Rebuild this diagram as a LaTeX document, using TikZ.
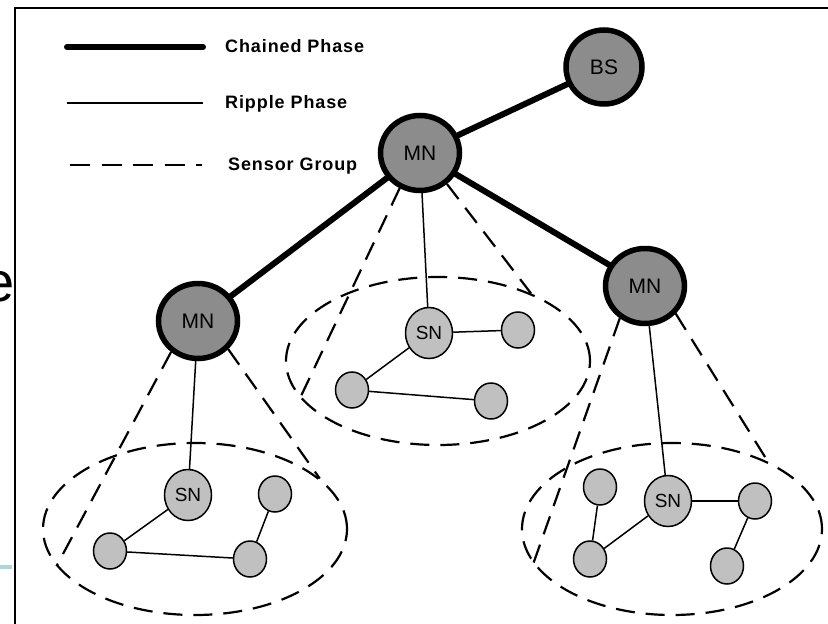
\documentclass[tikz,border=0pt]{standalone}
\usepackage{fontspec}
\setmainfont{Liberation Sans}
\newfontfamily\legendfont[LetterSpace=5]{Liberation Sans}
\usetikzlibrary{shapes.geometric}
\pgfdeclarelayer{bg}
\pgfsetlayers{bg,main}
\definecolor{headgray}{RGB}{140,140,140}
\definecolor{leafgray}{RGB}{192,192,192}
\definecolor{slideteal}{RGB}{168,216,220}

\begin{document}
\begin{tikzpicture}[x=1pt,y=-1pt,
  head/.style={ellipse, draw, line width=5.5pt, fill=headgray,
    minimum width=79pt, minimum height=75pt, inner sep=0pt,
    font=\fontsize{21}{21}\selectfont},
  sensor/.style={ellipse, draw, line width=1.5pt, fill=leafgray,
    minimum width=47pt, minimum height=51pt, inner sep=0pt,
    font=\fontsize{19}{19}\selectfont},
  leaf/.style={ellipse, draw, line width=1.5pt, fill=leafgray,
    minimum width=33pt, minimum height=36pt, inner sep=0pt},
  group/.style={ellipse, draw, line width=2.2pt, dash pattern=on 19pt off 11pt,
    inner sep=0pt},
  chain/.style={line width=6pt, line cap=round},
  ripple/.style={line width=1.5pt},
  cone/.style={line width=2.2pt, dash pattern=on 19pt off 11pt},
  legendtext/.style={anchor=base west, inner sep=0pt,
    font=\legendfont\bfseries\fontsize{18}{18}\selectfont}
]
\useasboundingbox (0,0) rectangle (828,624);

% slide fragments around the figure
\fill[slideteal] (0,565) rectangle (12,569);
\node[anchor=base east, inner sep=0pt, font=\fontsize{56}{56}\selectfont]
  (slideword) at (14.5,301) {e};

% figure frame
\draw[line width=2.3pt] (15,640) -- (15,8) -- (840,8);

% legend
\coordinate (lgA1) at (67,47);  \coordinate (lgA2) at (203,47);
\coordinate (lgB1) at (67,103); \coordinate (lgB2) at (203,103);
\coordinate (lgC1) at (70,165); \coordinate (lgC2) at (202,165);
\draw[chain] (lgA1) -- (lgA2);
\draw[ripple] (lgB1) -- (lgB2);
\draw[cone, dash pattern=on 20pt off 11.5pt] (lgC1) -- (lgC2);
\node[legendtext] (lgAtext) at (225,52) {Chained Phase};
\node[legendtext] (lgBtext) at (225,108) {Ripple Phase};
\node[legendtext] (lgCtext) at (228,170) {Sensor Group};

% base station and master nodes
\node[head, minimum width=76pt, minimum height=74pt] (bs) at (604,67) {BS};
\node[head] (mnT) at (420,153) {MN};
\node[head] (mnL) at (198,321) {MN};
\node[head] (mnR) at (645,286) {MN};

% central group
\node[sensor] (snC) at (429,333) {SN};
\node[leaf] (c1) at (518,330) {};
\node[leaf] (c2) at (352,390) {};
\node[leaf] (c3) at (491,401) {};

% left group
\node[sensor] (snL) at (188,495) {SN};
\node[leaf] (l1) at (275,494) {};
\node[leaf] (l2) at (110,551) {};
\node[leaf] (l3) at (250,559) {};

% right group
\node[sensor] (snR) at (668,501) {SN};
\node[leaf] (r1) at (600,487) {};
\node[leaf] (r2) at (590,559) {};
\node[leaf] (r3) at (755,501) {};
\node[leaf] (r4) at (727,566) {};

\begin{pgfonlayer}{bg}
  % sensor group outlines
  \node[group, minimum width=304pt, minimum height=168pt] (grpC) at (438,361) {};
  \node[group, minimum width=304pt, minimum height=172pt] (grpL) at (195,529) {};
  \node[group, minimum width=300pt, minimum height=172pt] (grpR) at (672,529) {};

  % cones from each master node to its group
  \draw[cone] (mnT.240) -- (grpC.195);
  \draw[cone] (mnT.311) -- (grpC.36);
  \draw[cone] (mnL.229) -- (grpL.195);
  \draw[cone] (mnL.317) -- (grpL.22);
  \draw[cone] (mnR.232) -- (grpR.194);
  \draw[cone] (mnR.318) -- (grpR.35);

  % chained phase
  \draw[chain] (bs) -- (mnT);
  \draw[chain] (mnT) -- (mnL);
  \draw[chain] (mnT) -- (mnR);

  % ripple phase
  \draw[ripple] (mnT) -- (snC);
  \draw[ripple] (mnL) -- (snL);
  \draw[ripple] (mnR) -- (snR);
  \draw[ripple] (snC) -- (c1);
  \draw[ripple] (snC) -- (c2);
  \draw[ripple] (c2) -- (c3);
  \draw[ripple] (snL) -- (l2);
  \draw[ripple] (l2) -- (l3);
  \draw[ripple] (l3) -- (l1);
  \draw[ripple] (r1) -- (r2);
  \draw[ripple] (r2) -- (snR);
  \draw[ripple] (snR) -- (r3);
  \draw[ripple] (r3) -- (r4);
\end{pgfonlayer}
\end{tikzpicture}
\end{document}
